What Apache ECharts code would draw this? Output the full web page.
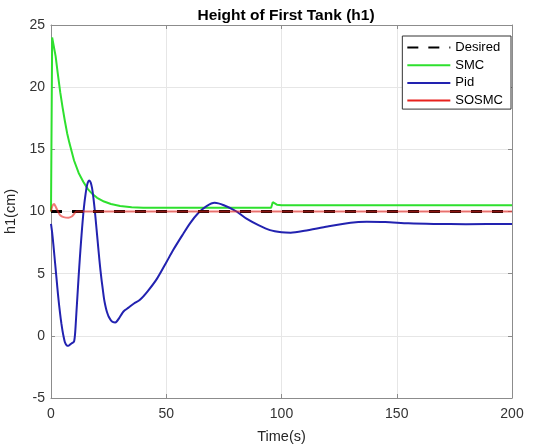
<!DOCTYPE html>
<html>
<head>
<meta charset="utf-8">
<script src="https://cdn.jsdelivr.net/npm/echarts@6/dist/echarts.min.js"></script>
<style>
  html, body { margin: 0; padding: 0; background: #fff; }
  #chart { width: 537px; height: 445px; }
</style>
</head>
<body>
<div id="chart"></div>
<script>
// values
const xTicks = [0, 50, 100, 150, 200]
const yTicks = [-5, 0, 5, 10, 15, 20, 25]

const desiredT = [0, 200]
const desiredH = [10, 10]

const smcT = [0, 0.5, 1, 2, 3, 4, 5, 6, 7, 8, 9, 10, 12, 14, 16, 18, 20, 23, 26, 30, 35, 40, 60, 95.5, 96.2, 97, 98, 100, 200]
const smcH = [10, 24.0, 24.1, 22.5, 21.0, 19.6, 18.4, 17.3, 16.3, 15.5, 14.8, 14.1, 13.1, 12.4, 11.8, 11.4, 11.1, 10.8, 10.6, 10.45, 10.35, 10.3, 10.3, 10.3, 10.75, 10.6, 10.55, 10.5, 10.5]

const pidT = [0, 0.5, 1, 1.5, 2, 2.5, 3, 3.5, 4, 4.5, 5, 5.5, 6, 6.5, 7, 7.5, 8, 9, 10, 10.5, 11, 11.5, 12, 12.5, 13, 13.5, 14, 14.5, 15, 15.5, 16, 16.6, 17.2, 17.8, 18.4, 19, 19.5, 20, 20.5, 21, 21.5, 22, 22.5, 23, 23.5, 24, 24.5, 25, 26, 27, 27.8, 28.5, 29.5, 31, 32, 33.5, 36, 38.6, 42, 46, 50, 53, 57, 60.3, 64, 67.5, 71, 75, 80.5, 85, 90, 95, 100, 104, 110, 120, 130, 137, 145, 155, 166, 180, 200]
const pidH = [9, 8.3, 7.4, 6.4, 5.4, 4.4, 3.4, 2.5, 1.7, 1.0, 0.4, -0.1, -0.5, -0.7, -0.8, -0.8, -0.75, -0.6, -0.45, 0.3, 1.8, 3.3, 4.8, 6.2, 7.5, 8.7, 9.8, 10.7, 11.4, 12.0, 12.35, 12.5, 12.35, 11.9, 11.1, 10.1, 9.1, 8.1, 7.1, 6.1, 5.2, 4.4, 3.7, 3.0, 2.5, 2.1, 1.8, 1.55, 1.25, 1.1, 1.08, 1.15, 1.4, 1.85, 2.05, 2.25, 2.6, 2.9, 3.6, 4.6, 5.9, 6.9, 8.1, 9.05, 9.9, 10.44, 10.7, 10.5, 10.0, 9.4, 8.9, 8.5, 8.33, 8.3, 8.45, 8.8, 9.1, 9.17, 9.15, 9.05, 9.0, 8.98, 9.0]

const sosmcT = [0, 0.5, 1.3, 2, 3, 4, 5.5, 7.5, 9, 10, 11, 200]
const sosmcH = [10, 10.4, 10.6, 10.4, 10.0, 9.7, 9.55, 9.5, 9.6, 9.8, 10, 10]

const pairs = (t, h) => t.map((v, i) => [v, h[i]])

const chart = echarts.init(document.getElementById("chart"))

const font = "Liberation Sans, Arial, Helvetica, sans-serif"
const axisGray = "#8c8c8c"

// 坐标轴公共样式
const axisLine = { show: true, onZero: false, lineStyle: { color: axisGray } }
const axisTick = { show: true, inside: true, length: 4, lineStyle: { color: axisGray } }

const option = {
  animation: false,
  textStyle: { fontFamily: font },
  title: {
    text: "Height of First Tank (h1)",
    left: 281,
    textAlign: "center",
    top: 3,
    textStyle: { fontSize: 15.5, fontWeight: "bold", color: "#000", fontFamily: font },
  },
  grid: { left: 51, right: 25, top: 25, bottom: 47, outerBoundsMode: "none" },
  legend: {
    right: 26,
    top: 36,
    orient: "vertical",
    align: "left",
    itemWidth: 43,
    itemHeight: 12,
    itemGap: 4.7,
    padding: [5, 8, 2, 4],
    borderColor: "#333",
    borderWidth: 1,
    backgroundColor: "#fff",
    itemStyle: { opacity: 0 },
    textStyle: { fontSize: 13, color: "#000", fontFamily: font },
    data: [
      { name: "Desired" },
      { name: "SMC" },
      { name: "Pid" },
      { name: "SOSMC", lineStyle: { opacity: 1 } },
    ],
  },
  xAxis: [
    {
      type: "value",
      min: 0,
      max: 200,
      interval: 50,
      name: "Time(s)",
      nameLocation: "middle",
      nameGap: 31,
      nameTextStyle: { fontSize: 14.5, color: "#262626" },
      axisLine,
      axisTick,
      axisLabel: { fontSize: 14, color: "#333", margin: 9 },
      splitLine: { show: true, lineStyle: { color: "#e6e6e6" } },
    },
    {
      type: "value",
      position: "top",
      min: 0,
      max: 200,
      interval: 50,
      axisLine,
      axisTick,
      axisLabel: { show: false },
      splitLine: { show: false },
    },
  ],
  yAxis: [
    {
      type: "value",
      min: -5,
      max: 25,
      interval: 5,
      name: "h1(cm)",
      nameLocation: "middle",
      nameGap: 30,
      nameTextStyle: { fontSize: 14.5, color: "#262626" },
      axisLine,
      axisTick,
      axisLabel: { fontSize: 14, color: "#333", margin: 6 },
      splitLine: { show: true, lineStyle: { color: "#e6e6e6" } },
    },
    {
      type: "value",
      position: "right",
      min: -5,
      max: 25,
      interval: 5,
      axisLine,
      axisTick,
      axisLabel: { show: false },
      splitLine: { show: false },
    },
  ],
  series: [
    {
      name: "SMC",
      type: "line",
      symbol: "none",
      data: pairs(smcT, smcH),
      lineStyle: { color: "#2ee02e", width: 2 },
      itemStyle: { color: "#2ee02e" },
      z: 2,
    },
    {
      name: "Pid",
      type: "line",
      symbol: "none",
      smooth: 0.25,
      data: pairs(pidT, pidH),
      lineStyle: { color: "#2222b0", width: 2 },
      itemStyle: { color: "#2222b0" },
      z: 3,
    },
    {
      name: "Desired",
      type: "line",
      symbol: "none",
      data: pairs(desiredT, desiredH),
      lineStyle: { color: "#000", width: 3, type: [11, 10] },
      itemStyle: { color: "#000" },
      z: 4,
    },
    {
      name: "SOSMC",
      type: "line",
      symbol: "none",
      smooth: 0.3,
      data: pairs(sosmcT, sosmcH),
      lineStyle: { color: "#e8211d", width: 2, opacity: 0.6 },
      itemStyle: { color: "#e8211d" },
      z: 5,
    },
  ],
}

chart.setOption(option)
</script>
</body>
</html>
